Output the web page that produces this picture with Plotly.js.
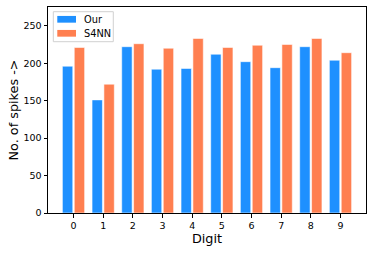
<!DOCTYPE html>
<html>
<head>
<meta charset="utf-8">
<script src="https://cdn.plot.ly/plotly-3.0.1.min.js"></script>
<style>html,body{margin:0;padding:0;background:#fff;}#chart{width:374px;height:253px;}</style>
</head>
<body>
<div id="chart"></div>
<script>
const digits = [0, 1, 2, 3, 4, 5, 6, 7, 8, 9];
const ourSpikes = [196, 151, 222, 192, 193, 212, 202, 194, 222, 204];
const s4nnSpikes = [221, 172, 226, 220, 233, 221, 224, 225, 233, 214];
const seriesNames = ["Our", "S4NN"];
const seriesColors = ["#1E90FF", "#FF7F50"];

const font = {family: "DejaVu Sans, sans-serif", color: "#000"};
const traces = [ourSpikes, s4nnSpikes].map((vals, i) => ({
  type: "bar", name: seriesNames[i], x: digits, y: vals, showlegend: false,
  marker: {color: seriesColors[i], line: {color: "rgba(255,255,255,0.7)", width: 0.8}}
}));

// matplotlib-style legend box (decoration, in plot-area paper coordinates)
const legendShapes = [{type: "rect", xref: "paper", yref: "paper", x0: 0.0167, x1: 0.2053, y0: 0.8316, y1: 0.9772,
  fillcolor: "rgba(255,255,255,0.8)", line: {color: "#d0d0d0", width: 1}, layer: "above"}];
const legendAnnots = [];
seriesNames.forEach((name, i) => {
  const yc = 0.9403 - i * 0.068;
  legendShapes.push({type: "rect", xref: "paper", yref: "paper", x0: 0.0292, x1: 0.0881,
    y0: yc - 0.0163, y1: yc + 0.0163, fillcolor: seriesColors[i], line: {width: 0}, layer: "above"});
  legendAnnots.push({xref: "paper", yref: "paper", x: 0.111, y: yc, xanchor: "left", yanchor: "middle",
    text: name, showarrow: false, font: Object.assign({size: 9.8}, font), borderpad: 0});
});

const layout = {
  width: 374, height: 253,
  margin: {l: 48, r: 8, t: 7, b: 40},
  paper_bgcolor: "#fff", plot_bgcolor: "#fff",
  barmode: "group", bargap: 0.2, bargroupgap: 0.125,
  showlegend: false,
  shapes: legendShapes,
  annotations: legendAnnots,
  xaxis: {range: [-0.86, 9.86], tickmode: "array", tickvals: digits, ticktext: digits.map(String),
          showgrid: false, zeroline: false, showline: true, linecolor: "#000", linewidth: 1, mirror: true,
          ticks: "outside", ticklen: 3.5, tickcolor: "#000", tickfont: Object.assign({size: 9.5}, font),
          title: {text: "Digit", font: Object.assign({size: 12.8}, font), standoff: 3}},
  yaxis: {range: [0, 275], tickvals: [0, 50, 100, 150, 200, 250],
          showgrid: false, zeroline: false, showline: true, linecolor: "#000", linewidth: 1, mirror: true,
          ticks: "outside", ticklen: 3.5, tickcolor: "#000", tickfont: Object.assign({size: 9.5}, font),
          title: {text: "No. of spikes ->", font: Object.assign({size: 12.8}, font), standoff: 1}}
};
Plotly.newPlot("chart", traces, layout, {staticPlot: true, displayModeBar: false});
</script>
</body>
</html>
